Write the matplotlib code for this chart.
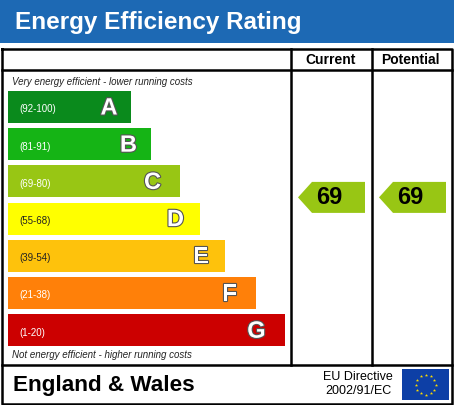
import numpy as np
import matplotlib
matplotlib.use("Agg")
import matplotlib.pyplot as plt
from matplotlib.patches import Polygon, Rectangle
import matplotlib.patheffects as pe

plt.rcParams['font.family'] = ['Liberation Sans', 'DejaVu Sans']

# Rating bands
bands = ['A', 'B', 'C', 'D', 'E', 'F', 'G']
ranges = ['(92-100)', '(81-91)', '(69-80)', '(55-68)', '(39-54)', '(21-38)', '(1-20)']
range_hi = [100, 91, 80, 68, 54, 38, 20]
range_lo = [92, 81, 69, 55, 39, 21, 1]
band_colors = ['#0a8a1c', '#15b415', '#98c614', '#ffff00', '#fec20c', '#ff8009', '#cc0000']
range_text_colors = ['white', 'white', 'white', '#222222', '#222222', 'white', 'white']

# Ratings
current_rating = 69
potential_rating = 69

# layout (pixels)
W, H = 454, 405
bar_left = 8
bar_right = [131, 151, 180, 200, 225, 256, 285]
letter_pad = [22, 22.5, 27.5, 24.5, 24, 26.5, 28.5]
bar_h = 32
first_top = 91
step = 37.2

fig = plt.figure(figsize=(W / 100, H / 100), dpi=100)
ax = fig.add_axes([0, 0, 1, 1])
ax.set_xlim(0, W)
ax.set_ylim(H, 0)
ax.axis('off')

# header
ax.add_patch(Rectangle((0, 0), W, 43, color='#1d69b4', lw=0))
ax.text(15, 23, 'Energy Efficiency Rating', color='white', fontsize=17.5,
        fontweight='bold', va='center', ha='left')

# frame
lw = 1.8
ax.plot([2, 452, 452, 2, 2], [49, 49, 404, 404, 49], color='black', lw=lw)
ax.plot([2, 452], [70, 70], color='black', lw=lw)
ax.plot([2, 452], [365, 365], color='black', lw=lw)
ax.plot([291, 291], [49, 365], color='black', lw=lw)
ax.plot([372, 372], [49, 365], color='black', lw=lw)

ax.text(331, 60, 'Current', fontsize=10, fontweight='bold', ha='center', va='center')
ax.text(410, 60, 'Potential', fontsize=10, fontweight='bold', ha='center', va='center')

ax.text(12, 82, 'Very energy efficient - lower running costs', fontsize=7,
        style='italic', ha='left', va='center', color='#222222')
ax.text(12, 355, 'Not energy efficient - higher running costs', fontsize=7,
        style='italic', ha='left', va='center', color='#222222')

tops = [first_top + i * step for i in range(len(bands))]
centers = [t + bar_h / 2 for t in tops]
widths = [r - bar_left for r in bar_right]
ax.barh(centers, widths, left=bar_left, height=bar_h, color=band_colors, lw=0)

for i, b in enumerate(bands):
    ax.text(19, centers[i] + 2.5, ranges[i], fontsize=7, color=range_text_colors[i],
            ha='left', va='center')
    t = ax.text(bar_right[i] - letter_pad[i], centers[i] + 1, b, fontsize=17,
                fontweight='bold', color='white', ha='center', va='center')
    t.set_path_effects([pe.withStroke(linewidth=1.6, foreground='#555555')])


def rating_y(v):
    for i in range(len(bands)):
        if range_lo[i] <= v <= range_hi[i]:
            return tops[i] + (range_hi[i] - v) / (range_hi[i] - range_lo[i]) * bar_h
    return centers[-1]


def band_color(v):
    for i in range(len(bands)):
        if range_lo[i] <= v <= range_hi[i]:
            return band_colors[i]
    return band_colors[-1]


def arrow(x_tip, v):
    yc = rating_y(v)
    h2 = 15.5
    pts = [(x_tip, yc), (x_tip + 14, yc - h2), (x_tip + 67, yc - h2),
           (x_tip + 67, yc + h2), (x_tip + 14, yc + h2)]
    ax.add_patch(Polygon(pts, closed=True, color=band_color(v), lw=0))
    ax.text(x_tip + 31, yc + 0.5, str(v), fontsize=17, fontweight='bold',
            ha='center', va='center', color='black')


arrow(298, current_rating)
arrow(379, potential_rating)

# footer
ax.text(13, 385, 'England & Wales', fontsize=16.2, fontweight='bold', ha='left', va='center')
ax.text(358, 377, 'EU Directive', fontsize=9, ha='center', va='center')
ax.text(358, 391, '2002/91/EC', fontsize=9, ha='center', va='center')

ax.add_patch(Rectangle((402, 369), 47, 31, color='#0d3fa6', lw=0))
ang = np.linspace(0, 2 * np.pi, 12, endpoint=False)
ax.scatter(425.5 + 10 * np.cos(ang), 384.5 + 10 * np.sin(ang), marker='*', s=6,
           color='#ffdd00', lw=0)

fig.savefig('out.png', dpi=100)
